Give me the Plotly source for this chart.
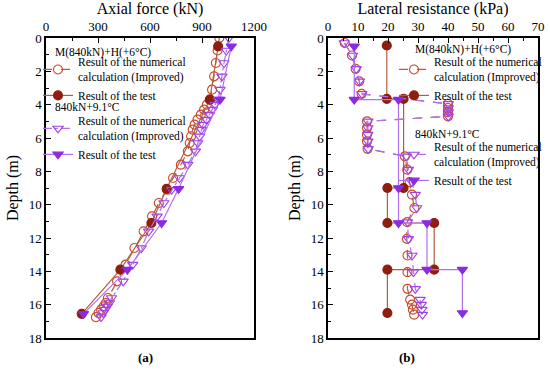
import plotly.graph_objects as go

# ---------------- data: (a) axial force ----------------
depth_num_a = [0, 0.75, 1.5, 2.3, 3.1, 3.7, 4.0, 4.3, 4.6, 4.9, 5.2, 5.5, 5.9, 6.3, 6.8,
               7.6, 8.4, 9.1, 9.9, 10.7, 11.6, 12.6, 13.6, 14.6, 15.6, 15.9, 16.1, 16.3, 16.5, 16.75]
axial_num_m = [1000, 990, 980, 970, 958, 946, 928, 912, 893, 874, 857, 846, 837, 829, 818,
               778, 733, 698, 651, 612, 563, 510, 459, 410, 357, 345, 332, 318, 303, 288]
axial_num_t = [1055, 1040, 1027, 1015, 1004, 994, 975, 960, 944, 926, 906, 896, 886, 876, 862,
               818, 770, 725, 680, 641, 592, 550, 500, 445, 378, 366, 354, 342, 330, 318]

depth_test_a = [0.5, 3.7, 9.05, 11.1, 13.9, 16.55]
axial_test_m = [993, 945, 696, 608, 429, 206]
axial_test_t = [1069, 1004, 765, 667, 470, 216]

# ---------------- data: (b) lateral resistance ----------------
depth_num_b = [0.3, 1.05, 1.85, 2.6, 3.35, 3.95, 4.2, 4.45, 4.7, 5.0, 5.4, 5.8, 6.2, 6.65,
               7.1, 7.9, 8.65, 9.4, 10.2, 11.05, 12.05, 13.05, 14.05, 15.05, 15.7, 16.0, 16.3, 16.6]
lat_num_m = [5.6, 8.0, 9.2, 10.4, 11.2, 40.0, 40.0, 40.0, 40.0, 13.0, 13.0, 13.0, 13.0, 13.2,
             25.6, 26.4, 27.2, 28.0, 28.8, 26.4, 26.3, 26.5, 26.5, 26.5, 27.4, 28.0, 28.3, 28.7]
lat_num_t = [5.4, 8.2, 9.4, 10.5, 11.3, 40.1, 40.1, 40.1, 40.1, 13.3, 13.3, 13.3, 13.3, 13.4,
             26.1, 26.8, 28.0, 29.1, 29.6, 26.5, 26.8, 28.0, 28.5, 29.1, 30.7, 31.1, 31.3, 31.5]

depth_test_bm = [0.45, 3.65, 3.65, 9.0, 9.0, 11.1, 11.1, 13.9, 13.9, 16.5]
lat_test_m = [19.6, 19.6, 25.2, 25.2, 19.8, 19.8, 35.4, 35.4, 19.8, 19.8]
depth_test_bt = [0.5, 3.7, 3.7, 9.0, 11.1, 11.1, 13.9, 13.9, 16.5]
lat_test_t = [8.75, 8.75, 23.5, 23.5, 23.5, 33.0, 33.0, 44.8, 44.8]

name_num = "Result of the numerical<br>calculation (Improved)"
name_test = "Result of the test"
title_m = "M(840kN)+H(+6°C)"
title_t = "840kN+9.1°C"

BROWN_LINE = "#B0603A"
BROWN_OPEN = "#C8482A"
BROWN_FILL = "#8E1E0E"
PURP_LINE = "#B070F0"
PURP_OPEN = "#A040E8"
PURP_FILL = "#8A2BE2"
FONT = "Liberation Serif, Times New Roman, DejaVu Serif, serif"

fig = go.Figure()

def add(x, y, xa, ya, name, color, mcolor, symbol, filled, dash, legend, lw=1.2):
    fig.add_trace(go.Scatter(
        x=x, y=y, xaxis=xa, yaxis=ya, name=name, legend=legend,
        mode="lines+markers",
        line=dict(color=color, width=lw, dash=dash),
        marker=dict(symbol=symbol, size=9,
                    color=mcolor if filled else "rgba(255,255,255,0)",
                    line=dict(color=mcolor, width=1.1)),
    ))

# (a)
add(axial_num_m, depth_num_a, "x", "y", name_num, BROWN_LINE, BROWN_OPEN, "circle", False, "dash", "legend")
add(axial_test_m, depth_test_a, "x", "y", name_test, BROWN_LINE, BROWN_FILL, "circle", True, "solid", "legend")
add(axial_num_t, depth_num_a, "x", "y", name_num, PURP_LINE, PURP_OPEN, "triangle-down", False, "dashdot", "legend2")
add(axial_test_t, depth_test_a, "x", "y", name_test, PURP_LINE, PURP_FILL, "triangle-down", True, "solid", "legend2")
# (b)
add(lat_num_m, depth_num_b, "x2", "y2", name_num, BROWN_LINE, BROWN_OPEN, "circle", False, "dash", "legend3")
add(lat_test_m, depth_test_bm, "x2", "y2", name_test, BROWN_LINE, BROWN_FILL, "circle", True, "solid", "legend3")
add(lat_num_t, depth_num_b, "x2", "y2", name_num, PURP_LINE, PURP_OPEN, "triangle-down", False, "dash", "legend4")
add(lat_test_t, depth_test_bt, "x2", "y2", name_test, PURP_LINE, PURP_FILL, "triangle-down", True, "solid", "legend4")

W, H = 550, 382
def px(x): return x / W
def py(y): return 1 - y / H

axis_common = dict(showline=True, linecolor="black", linewidth=1.5, mirror=True,
                   ticks="inside", ticklen=5, tickwidth=1.2, tickcolor="black",
                   showgrid=False, zeroline=False, automargin=False,
                   tickfont=dict(family=FONT, size=13, color="black"))

fig.update_layout(
    width=W, height=H, margin=dict(l=0, r=0, t=0, b=0, autoexpand=False),
    paper_bgcolor="white", plot_bgcolor="white",
    font=dict(family=FONT, color="black"),
    xaxis=dict(domain=[px(46), px(254)], anchor="y", side="top", range=[0, 1200],
               dtick=300, minor=dict(dtick=150, ticks="inside", ticklen=3, tickcolor="black"),
               title=dict(text="Axial force (kN)", font=dict(family=FONT, size=16), standoff=2),
               **axis_common),
    yaxis=dict(domain=[py(338), py(38)], anchor="x", range=[18, 0], dtick=2,
               minor=dict(dtick=1, ticks="inside", ticklen=3, tickcolor="black"),
               title=dict(text="Depth (m)", font=dict(family=FONT, size=16), standoff=6),
               **axis_common),
    xaxis2=dict(domain=[px(328), px(538)], anchor="y2", side="top", range=[0, 70],
                dtick=10, minor=dict(dtick=5, ticks="inside", ticklen=3, tickcolor="black"),
                title=dict(text="Lateral resistance (kPa)", font=dict(family=FONT, size=16), standoff=2),
                **axis_common),
    yaxis2=dict(domain=[py(338), py(38)], anchor="x2", range=[18, 0], dtick=2,
                minor=dict(dtick=1, ticks="inside", ticklen=3, tickcolor="black"),
                title=dict(text="Depth (m)", font=dict(family=FONT, size=16), standoff=6),
                **axis_common),
    showlegend=True,
)

leg_common = dict(bgcolor="rgba(0,0,0,0)", borderwidth=0, xanchor="left", yanchor="top",
                  font=dict(family=FONT, size=11.5, color="black"), tracegroupgap=0,
                  itemwidth=30)
fig.update_layout(
    legend=dict(x=px(38), y=py(48), **leg_common),
    legend2=dict(x=px(38), y=py(107), **leg_common),
    legend3=dict(x=px(394), y=py(48), **leg_common),
    legend4=dict(x=px(394), y=py(133), **leg_common),
)

for txt, x, y in [(title_m, 53, 52), (title_t, 53, 107), (title_m, 413, 49), (title_t, 413, 134)]:
    fig.add_annotation(text=txt, x=px(x), y=py(y), xref="paper", yref="paper",
                       xanchor="left", yanchor="middle", showarrow=False,
                       font=dict(family=FONT, size=11.5, color="black"))

fig.add_annotation(text="<b>(a)</b>", x=px(136), y=py(367), xref="paper", yref="paper",
                   showarrow=False, font=dict(family=FONT, size=13))
fig.add_annotation(text="<b>(b)</b>", x=px(417), y=py(367), xref="paper", yref="paper",
                   showarrow=False, font=dict(family=FONT, size=13))

fig.write_html("out.html", config={"displayModeBar": False},
               post_script="document.body.style.margin='0px';")
